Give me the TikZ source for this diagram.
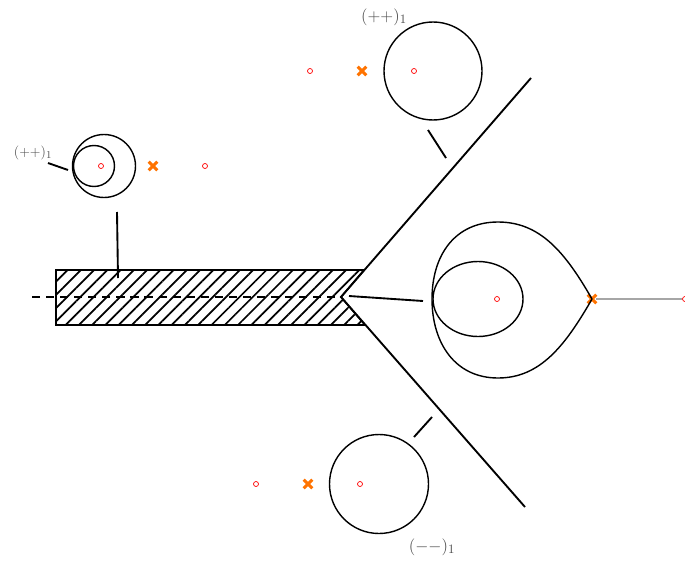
\documentclass[tikz,border=0pt]{standalone}
\usetikzlibrary{patterns.meta, shapes.misc}

\begin{document}
\begin{tikzpicture}[
    x=0.03cm, y=-0.03cm,
    contour/.style = {line width=1.2pt, black},
    cutline/.style = {line width=1.6pt, black},
    pole/.style    = {circle, draw=red, line width=0.6pt, inner sep=0pt, minimum size=0.15cm},
    zeromark/.style = {cross out, draw=orange!90!red, line width=2.6pt, inner sep=0pt, minimum size=0.17cm},
    sheet/.style   = {font=\fontsize{15.5}{18}\selectfont, text=black!70},
]
\useasboundingbox (0,0) rectangle (685,563);

%% ---- Hatched cut and wedge ----
\coordinate (tip) at (341,297);
\coordinate (wedgeup) at (531,78);
\coordinate (wedgedown) at (525,507);
\draw[line width=1.4pt, pattern={Lines[angle=45, distance=8pt, line width=1.5pt]}]
    (56,270) -- (364,270) -- (tip) -- (365,325) -- (56,325) -- cycle;
\coordinate (dashstart) at (32,297);
\draw[cutline, dash pattern=on 7pt off 5pt] (dashstart) -- (tip);
\draw[cutline] (wedgeup) -- (tip) -- (wedgedown);

%% ---- Left small loops ----
\draw[contour] (104,166) circle (31.5);
\draw[contour] (94,166) circle (20.5);
\node[pole]     (pl1) at (101,166) {};
\node[zeromark] (zl)  at (153,166) {};
\node[pole]     (pl2) at (205,166) {};
\node[font=\fontsize{12.5}{15}\selectfont, text=black!70] (labl) at (33,153) {$(++)_1$};
\coordinate (stubl1) at (48,163);
\coordinate (stubl2) at (68,170);
\draw[cutline] (stubl1) -- (stubl2);
\coordinate (stubv1) at (117,212);
\coordinate (stubv2) at (118,278);
\draw[cutline] (stubv1) -- (stubv2);

%% ---- Top circle ----
\draw[contour] (433,71) circle (49);
\node[pole]     (pt1) at (310,71) {};
\node[zeromark] (zt)  at (362,71) {};
\node[pole]     (pt2) at (414,71) {};
\node[sheet] (labt) at (384,17) {$(++)_1$};
\coordinate (stubt1) at (428,130);
\coordinate (stubt2) at (446,158);
\draw[cutline] (stubt1) -- (stubt2);

%% ---- Bottom circle ----
\draw[contour] (379,484) circle (49.5);
\node[pole]     (pb1) at (256,484) {};
\node[zeromark] (zb)  at (308,484) {};
\node[pole]     (pb2) at (360,484) {};
\node[sheet] (labb) at (432,547) {$(--)_1$};
\coordinate (stubb1) at (414,437);
\coordinate (stubb2) at (432,417);
\draw[cutline] (stubb1) -- (stubb2);

%% ---- Teardrop on the right ----
\node[zeromark] (cusp) at (592,299) {};
\node[pole]     (pr)   at (497,299) {};
\node[pole]     (pend) at (685,299) {};
\draw[contour] (cusp.center) .. controls (565,252) and (540,222) .. (498,222)
    .. controls (455,222) and (432,255) .. (432,299)
    .. controls (432,343) and (455,378) .. (498,378)
    .. controls (540,378) and (565,346) .. (cusp.center);
\draw[contour] (478,299) ellipse (45 and 37.5);
\draw[gray!70, line width=0.9pt] (cusp) -- (pend);
\coordinate (stubr1) at (349,296);
\coordinate (stubr2) at (423,301);
\draw[cutline] (stubr1) -- (stubr2);

\end{tikzpicture}
\end{document}
